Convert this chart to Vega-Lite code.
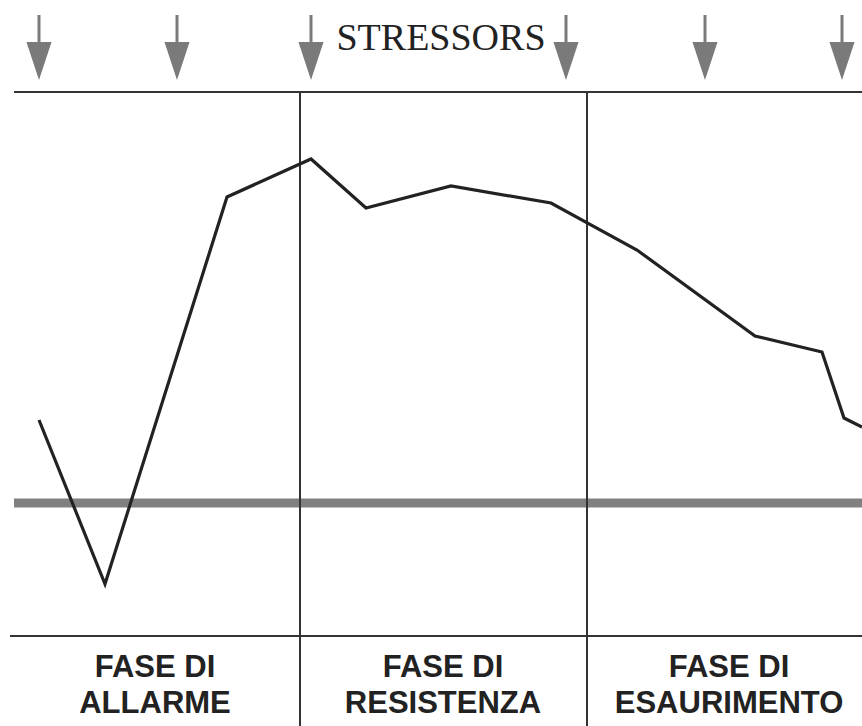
{
  "$schema": "https://vega.github.io/schema/vega-lite/v6.json",
  "width": 862,
  "height": 726,
  "padding": 0,
  "autosize": {"type": "none"},
  "background": "white",
  "config": {"view": {"stroke": null}},
  "datasets": {
    "curve": [
      {"t": 39, "livello": 83},
      {"t": 105, "livello": -81},
      {"t": 227, "livello": 306},
      {"t": 311, "livello": 344},
      {"t": 366, "livello": 295},
      {"t": 451, "livello": 317},
      {"t": 551, "livello": 300},
      {"t": 637, "livello": 253},
      {"t": 755, "livello": 167},
      {"t": 822, "livello": 151},
      {"t": 844, "livello": 85},
      {"t": 862, "livello": 76}
    ],
    "hlines": [
      {"name": "top", "x1": 14, "x2": 862, "y": 411},
      {"name": "bottom", "x1": 10, "x2": 862, "y": -133}
    ],
    "vlines": [
      {"x": 300, "y1": 411, "y2": -223},
      {"x": 587, "y1": 411, "y2": -223}
    ],
    "stressors": [
      {"x": 39}, {"x": 177}, {"x": 311}, {"x": 566}, {"x": 705}, {"x": 842}
    ],
    "phases": [
      {"x": 155, "label": "FASE DI\nALLARME"},
      {"x": 443, "label": "FASE DI\nRESISTENZA"},
      {"x": 729, "label": "FASE DI\nESAURIMENTO"}
    ],
    "title": [{"x": 441, "label": "STRESSORS"}]
  },
  "layer": [
    {
      "data": {"values": [{"x1": 14, "x2": 862, "y": 0}]},
      "mark": {"type": "rule", "color": "#808080", "strokeWidth": 9},
      "encoding": {
        "x": {"field": "x1", "type": "quantitative", "scale": {"domain": [0, 862]}, "axis": null},
        "x2": {"field": "x2"},
        "y": {"field": "y", "type": "quantitative", "scale": {"domain": [-223, 503]}, "axis": null}
      }
    },
    {
      "data": {"name": "hlines"},
      "mark": {"type": "rule", "color": "#333333", "strokeWidth": 2},
      "encoding": {
        "x": {"field": "x1", "type": "quantitative", "scale": {"domain": [0, 862]}, "axis": null},
        "x2": {"field": "x2"},
        "y": {"field": "y", "type": "quantitative", "scale": {"domain": [-223, 503]}, "axis": null}
      }
    },
    {
      "data": {"name": "vlines"},
      "mark": {"type": "rule", "color": "#333333", "strokeWidth": 2},
      "encoding": {
        "x": {"field": "x", "type": "quantitative", "scale": {"domain": [0, 862]}, "axis": null},
        "y": {"field": "y1", "type": "quantitative", "scale": {"domain": [-223, 503]}, "axis": null},
        "y2": {"field": "y2"}
      }
    },
    {
      "data": {"name": "curve"},
      "mark": {"type": "line", "color": "#222222", "strokeWidth": 3.2, "strokeJoin": "miter", "clip": true},
      "encoding": {
        "x": {"field": "t", "type": "quantitative", "scale": {"domain": [0, 862]}, "axis": null},
        "y": {"field": "livello", "type": "quantitative", "scale": {"domain": [-223, 503]}, "axis": null}
      }
    },
    {
      "data": {"name": "stressors"},
      "mark": {"type": "rule", "color": "#7a7a7a", "strokeWidth": 3},
      "encoding": {
        "x": {"field": "x", "type": "quantitative", "scale": {"domain": [0, 862]}, "axis": null},
        "y": {"datum": 488, "type": "quantitative", "scale": {"domain": [-223, 503]}, "axis": null},
        "y2": {"datum": 455}
      }
    },
    {
      "data": {"name": "stressors"},
      "mark": {"type": "point", "shape": "M-0.66,-1L0.66,-1L0,1Z", "size": 1444, "filled": true, "color": "#7a7a7a", "opacity": 1, "strokeWidth": 0},
      "encoding": {
        "x": {"field": "x", "type": "quantitative", "scale": {"domain": [0, 862]}, "axis": null},
        "y": {"datum": 442, "type": "quantitative", "scale": {"domain": [-223, 503]}, "axis": null}
      }
    },
    {
      "data": {"name": "title"},
      "mark": {"type": "text", "font": "Liberation Serif", "fontSize": 38, "color": "#222222", "baseline": "alphabetic", "align": "center"},
      "encoding": {
        "x": {"field": "x", "type": "quantitative", "scale": {"domain": [0, 862]}, "axis": null},
        "y": {"datum": 453, "type": "quantitative", "scale": {"domain": [-223, 503]}, "axis": null},
        "text": {"field": "label"}
      }
    },
    {
      "data": {"name": "phases"},
      "mark": {"type": "text", "font": "Liberation Sans", "fontWeight": "bold", "fontSize": 31, "lineBreak": "\n", "lineHeight": 36, "color": "#222222", "baseline": "alphabetic", "align": "center"},
      "encoding": {
        "x": {"field": "x", "type": "quantitative", "scale": {"domain": [0, 862]}, "axis": null},
        "y": {"datum": -174, "type": "quantitative", "scale": {"domain": [-223, 503]}, "axis": null},
        "text": {"field": "label"}
      }
    }
  ]
}
